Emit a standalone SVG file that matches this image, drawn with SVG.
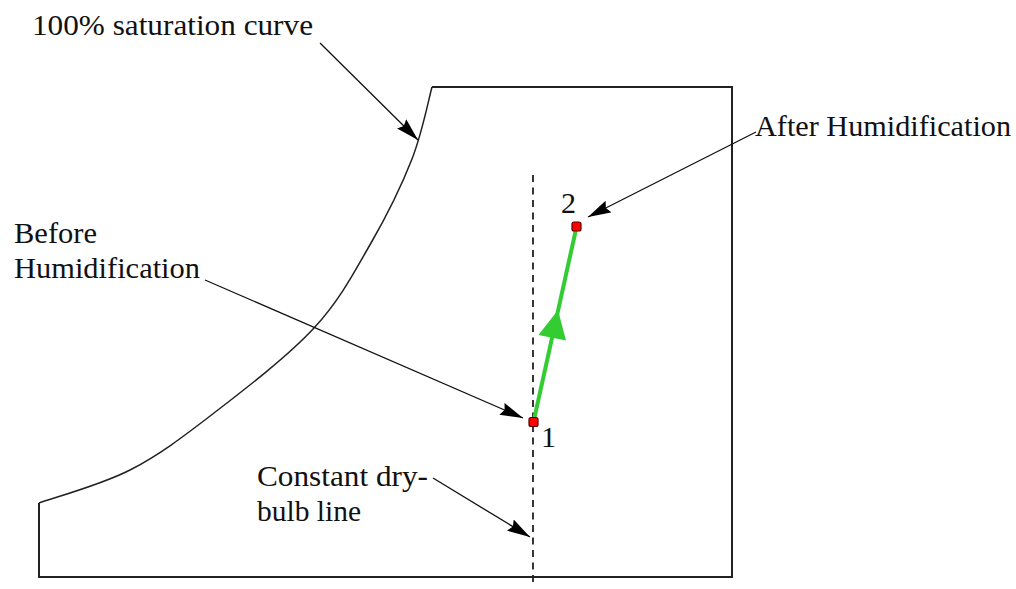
<svg xmlns="http://www.w3.org/2000/svg" width="1016" height="589" viewBox="0 0 1016 589">
<style>
text{font-family:"Liberation Serif","Times New Roman",serif;font-size:30px;fill:#111}
.box{fill:none;stroke:#222;stroke-width:2}
.curve{fill:none;stroke:#222;stroke-width:1.5}
.lead{fill:none;stroke:#111;stroke-width:1.3;marker-end:url(#ah)}
.dash{fill:none;stroke:#222;stroke-width:1.8;stroke-dasharray:7 5.5}
.pt{fill:#ff0000;stroke:#550000;stroke-width:1.2}
</style>
<defs>
<marker id="ah" markerUnits="userSpaceOnUse" markerWidth="26" markerHeight="14" refX="23" refY="6.5" orient="auto">
<path d="M0,0 L23,6.5 L0,13 L3,6.5 Z" fill="#000"/>
</marker>
</defs>
<rect width="1016" height="589" fill="#fff"/>
<g id="chart">
<path class="box" d="M432,87 L732,87 L732,577 L39,577 L39,503"/>
<path class="curve" d="M39,503 C54.2,497.5 100.8,485 130,470 C159.2,455 183.3,436.7 214,413 C244.7,389.3 287.8,356.3 314,328 C340.2,299.7 354.7,271.2 371,243 C387.3,214.8 401.8,185 412,159 C422.2,133 428.7,99 432,87"/>
<line class="dash" x1="533" y1="175" x2="533" y2="584"/>
</g>
<g id="connectors">
<line class="lead" x1="320" y1="43" x2="418" y2="140"/>
<line class="lead" x1="756" y1="132" x2="588" y2="217"/>
<line class="lead" x1="205" y1="280" x2="523" y2="418"/>
<line class="lead" x1="433" y1="478" x2="530" y2="537"/>
<g id="process">
<line x1="533.5" y1="422" x2="576.5" y2="227" stroke="#33cc33" stroke-width="4"/>
<polygon points="558,310 538.5,335 566,340.5" fill="#33cc33"/>
</g>
</g>
<g id="point1">
<rect class="pt" x="529" y="417.5" width="9" height="9" rx="2"/>
<text x="541" y="447">1</text>
</g>
<g id="point2">
<rect class="pt" x="572" y="222" width="9" height="9" rx="2"/>
<text x="561" y="213">2</text>
</g>
<g id="labels">
<text x="32" y="35" textLength="281" lengthAdjust="spacingAndGlyphs">100% saturation curve</text>
<text x="755" y="136" textLength="256" lengthAdjust="spacingAndGlyphs">After Humidification</text>
<text x="14" y="243" textLength="83" lengthAdjust="spacingAndGlyphs">Before</text>
<text x="14" y="278" textLength="186" lengthAdjust="spacingAndGlyphs">Humidification</text>
<text x="257" y="486" textLength="171" lengthAdjust="spacingAndGlyphs">Constant dry-</text>
<text x="257" y="521" textLength="104" lengthAdjust="spacingAndGlyphs">bulb line</text>
</g>
</svg>
